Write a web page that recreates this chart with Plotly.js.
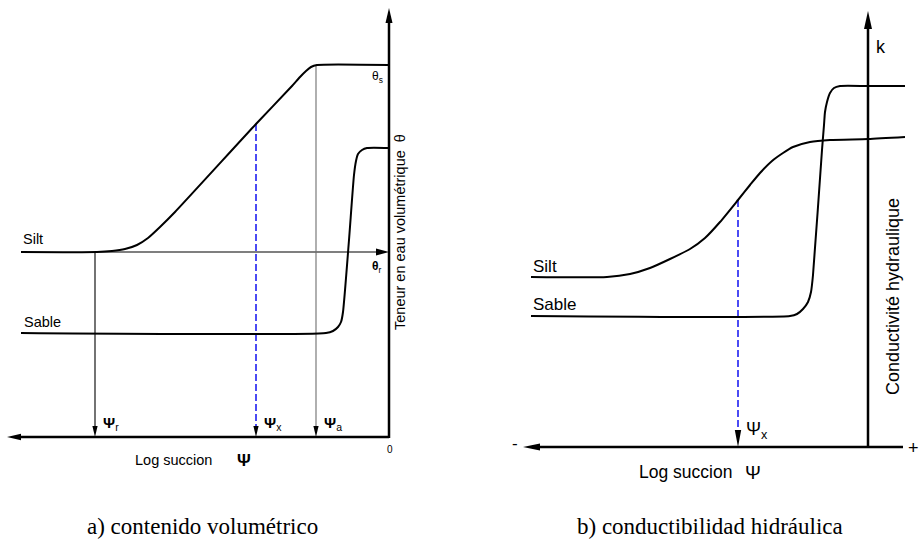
<!DOCTYPE html>
<html>
<head>
<meta charset="utf-8">
<script src="https://cdn.plot.ly/plotly-3.0.1.min.js"></script>
<style>html,body{margin:0;padding:0;background:#fff;}#chart{width:920px;height:539px;}</style>
</head>
<body>
<div id="chart"></div>
<script>
// ---------- Data (schematic curves) ----------
// Panel a: x = log suction measured leftwards from the origin, y = water content above the axis
const siltA_x  = [368,292,277,264,252,241,229,214,133,97,89,83,78,72,0];
const siltA_y  = [185,185,186,188,192,199,210,225,313,351,360,366,370,372,372];
const sableA_x = [368,63,56,51,48,46,40,35,33,31,27,22,0];
const sableA_y = [104,104,106,110,115,125,197,262,276,283,287,289,289];

// Panel b: x = log suction measured leftwards from the k axis, y = conductivity above the axis
const siltB_x  = [337,261,238,218,198,178,163,148,130,118,108,96,85,75,58,38,0,-37];
const siltB_y  = [170,170,173,179,188,198,209,225,247,262,274,286,294,300,305,307,308,310];
const sableB_x = [337,78,71,65,60,57,55,46,44,43,41,38,34,28,0,-37];
const sableB_y = [131,131,133,138,145,155,172,297,322,335,345,354,359,361,361,361];

// Characteristic suctions
const psiA_names = ['r','x','a'];
const psiA_pos   = [294,133,73];
const psiA_top   = [185,313,372];
const psiB_names = ['x'];
const psiB_pos   = [130];
const psiB_top   = [247];

// Residual water content level (θr) on panel a
const thetaR_level = 185;
const thetaR_start = 292;

const curveLabels = ['Silt','Sable'];
const captions = ['a) contenido volumétrico','b) conductibilidad hidráulica'];

// ---------- Styles ----------
const SANS = 'Liberation Sans, Arial, Helvetica, sans-serif';
const SERIF = 'Liberation Serif, Times New Roman, serif';
const BLACK = '#000000';

function line(xa, ya, x, y, w, color, dash, shape) {
  return {type:'scatter', mode:'lines', x:x, y:y, xaxis:xa, yaxis:ya, hoverinfo:'skip',
          line:{color:color||BLACK, width:w, dash:dash||'solid', shape:shape||'linear', smoothing:0.6}};
}
function head(xr, yr, tx, ty, dx, dy, len, hw) {
  const bx = tx - dx*len, by = ty - dy*len;
  const px = -dy*hw, py = dx*hw;
  return {type:'path', xref:xr, yref:yr, layer:'above',
          path:`M${tx},${ty} L${bx+px},${by+py} L${bx-px},${by-py} Z`,
          fillcolor:BLACK, line:{width:0}};
}
function txt(xr, yr, x, y, text, size, opts) {
  return Object.assign({xref:xr, yref:yr, x:x, y:y, text:text, showarrow:false,
          font:{family:SANS, size:size, color:BLACK}, xanchor:'center', yanchor:'middle'}, opts||{});
}

const traces = [];
const shapes = [];
const ann = [];

// ---------- Panel a ----------
traces.push(line('x','y',[0,0],[-1,421],2.5));            // vertical axis
traces.push(line('x','y',[0,372],[0,0],2.5));             // horizontal axis
shapes.push(head('x','y',0,429,0,1,15,3.5));
shapes.push(head('x','y',382,0,1,0,14,3.2));
traces.push(line('x','y',[thetaR_start,7],[thetaR_level,thetaR_level],1.1)); // θr arrow
shapes.push(head('x','y',0,thetaR_level,-1,0,13,3.5));
psiA_pos.forEach((p,i)=>{
  const col = psiA_names[i]==='x' ? '#1010f0' : (psiA_names[i]==='a' ? '#6e6e6e' : BLACK);
  const dash = psiA_names[i]==='x' ? '7px,3px' : 'solid';
  const w = psiA_names[i]==='x' ? 1.5 : 1.1;
  traces.push(line('x','y',[p,p],[psiA_top[i],6],w,col,dash));
  shapes.push(head('x','y',p,0,0,-1,11,2.6));
  ann.push(txt('x','y',p-6,14,'<b>Ψ</b><sub>'+psiA_names[i]+'</sub>',15,{xanchor:'left'}));
});
traces.push(line('x','y',siltA_x,siltA_y,2,BLACK,'solid','spline'));
traces.push(line('x','y',sableA_x,sableA_y,2,BLACK,'solid','spline'));
ann.push(txt('x','y',368,198,curveLabels[0],14.5,{xanchor:'left'}));
ann.push(txt('x','y',367,115,curveLabels[1],14.5,{xanchor:'left'}));
ann.push(txt('x','y',12,360,'θ<sub>s</sub>',12));
ann.push(txt('x','y',12,170,'<b>θ</b><sub>r</sub>',12));
ann.push(txt('x','y',-1,-12,'0',10));
ann.push(txt('x','y',256,-23,'Log succion',14.5,{xanchor:'left'}));
ann.push(txt('x','y',145,-23,'<b>Ψ</b>',17));
ann.push(txt('x','y',-11,205,'Teneur en eau volumétrique  θ',14.5,{textangle:-90}));
ann.push(txt('x','y',187,-89,captions[0],23,{font:{family:SERIF,size:23,color:BLACK}}));

// ---------- Panel b ----------
traces.push(line('x2','y2',[0,0],[0,427],2.5));           // k axis
traces.push(line('x2','y2',[-35,336],[0,0],2.5));         // log suction axis
shapes.push(head('x2','y2',0,436,0,1,18,4));
shapes.push(head('x2','y2',345,0,1,0,17,3.5));
psiB_pos.forEach((p,i)=>{
  traces.push(line('x2','y2',[p,p],[psiB_top[i],10],1.5,'#1010f0','7px,3px'));
  shapes.push(head('x2','y2',p,0,0,-1,17,3.2));
  ann.push(txt('x2','y2',p-6,17,'Ψ<sub>'+psiB_names[i]+'</sub>',18,{xanchor:'left'}));
});
traces.push(line('x2','y2',siltB_x,siltB_y,2,BLACK,'solid','spline'));
traces.push(line('x2','y2',sableB_x,sableB_y,2,BLACK,'solid','spline'));
ann.push(txt('x2','y2',337,181,curveLabels[0],17,{xanchor:'left'}));
ann.push(txt('x2','y2',337,143,curveLabels[1],17,{xanchor:'left'}));
ann.push(txt('x2','y2',353,4,'-',17));
ann.push(txt('x2','y2',-45,-1,'+',18));
ann.push(txt('x2','y2',-13,400,'k',18));
ann.push(txt('x2','y2',231,-25,'Log succion',17.5,{xanchor:'left'}));
ann.push(txt('x2','y2',115,-25,'Ψ',19));
ann.push(txt('x2','y2',-25,150,'Conductivité hydraulique',18,{textangle:-90}));
ann.push(txt('x2','y2',158,-79,captions[1],23,{font:{family:SERIF,size:23,color:BLACK}}));

const ax = {visible:false, showgrid:false, zeroline:false, fixedrange:true};
const layout = {
  width:920, height:539, margin:{l:0,r:0,t:0,b:0},
  paper_bgcolor:'#ffffff', plot_bgcolor:'#ffffff', showlegend:false,
  xaxis: Object.assign({domain:[0,0.5], range:[389,-71]}, ax),
  yaxis: Object.assign({domain:[0,1], range:[-102,437]}, ax),
  xaxis2: Object.assign({domain:[0.5,1], range:[408,-52], anchor:'y2'}, ax),
  yaxis2: Object.assign({domain:[0,1], range:[-92,447], anchor:'x2'}, ax),
  shapes: shapes, annotations: ann
};
Plotly.newPlot('chart', traces, layout, {staticPlot:true, displayModeBar:false});
</script>
</body>
</html>
